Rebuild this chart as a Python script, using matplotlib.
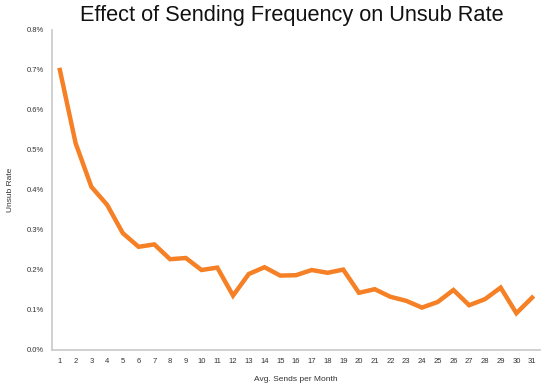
import matplotlib
matplotlib.use("Agg")
import matplotlib.pyplot as plt
from matplotlib.ticker import FuncFormatter

sends = list(range(1, 32))
unsub_rate = [0.70, 0.517, 0.408, 0.363, 0.292, 0.258, 0.264, 0.227, 0.230, 0.200,
              0.206, 0.136, 0.190, 0.207, 0.186, 0.187, 0.200, 0.193, 0.201, 0.143,
              0.152, 0.133, 0.123, 0.106, 0.120, 0.150, 0.112, 0.127, 0.156, 0.092,
              0.131]
y_ticks = [0.0, 0.1, 0.2, 0.3, 0.4, 0.5, 0.6, 0.7, 0.8]

plt.rcParams['font.family'] = ['Liberation Sans', 'DejaVu Sans']

fig = plt.figure(figsize=(5.49, 3.87), dpi=100)
ax = fig.add_axes([52/549, 37/387, 488/549, 320/387])

ax.plot(sends, unsub_rate, color='#f58025', linewidth=3.2, solid_joinstyle='miter')

ax.set_xlim(0.5, 31.5)
ax.set_ylim(0, 0.8)
ax.set_xticks(sends)
ax.set_yticks(y_ticks)
ax.yaxis.set_major_formatter(FuncFormatter(lambda v, p: f"{v:.1f}%"))
ax.tick_params(length=0, labelsize=5.5, labelcolor='#333333', pad=6)

for s in ['top', 'right']:
    ax.spines[s].set_visible(False)
for s in ['left', 'bottom']:
    ax.spines[s].set_color('#c8c8c8')
    ax.spines[s].set_linewidth(1.2)

ax.set_xlabel('Avg. Sends per Month', fontsize=6, color='#333333', labelpad=8)
ax.set_ylabel('Unsub Rate', fontsize=6, color='#333333', labelpad=9)

fig.text(0.532, 0.959, 'Effect of Sending Frequency on Unsub Rate', ha='center',
         va='center', fontsize=15.7, color='#111111')

fig.savefig('out.png', dpi=100)
